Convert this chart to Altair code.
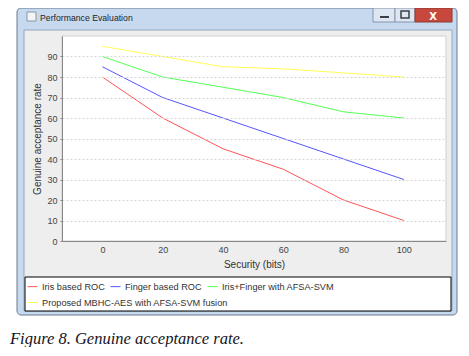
import altair as alt
import pandas as pd

# ---- data ----
security_bits = [0, 20, 40, 60, 80, 100]
series_names = [
    "Iris based ROC",
    "Finger based ROC",
    "Iris+Finger with AFSA-SVM",
    "Proposed MBHC-AES with AFSA-SVM fusion",
]
iris_roc = [80, 60, 45, 35, 20, 10]
finger_roc = [85, 70, 60, 50, 40, 30]
iris_finger_afsa = [90, 80, 75, 70, 63, 60]
proposed_mbhc = [95, 90, 85, 84, 82, 80]
series_colors = ["#FF5555", "#5555FF", "#55FF55", "#FFFF55"]
y_ticks = [0, 10, 20, 30, 40, 50, 60, 70, 80, 90]
x_ticks = [0, 20, 40, 60, 80, 100]

rows = []
for name, vals in zip(series_names, [iris_roc, finger_roc, iris_finger_afsa, proposed_mbhc]):
    for xv, yv in zip(security_bits, vals):
        rows.append({"Security": xv, "GAR": yv, "Series": name})
df = pd.DataFrame(rows)

W, H = 384, 205
one = pd.DataFrame({"a": [0]})
FONT = "Liberation Sans"


def box(x1, x2, y1, y2, **kw):
    return alt.Chart(one).mark_rect(**kw).encode(
        x=alt.value(x1), x2=alt.value(x2), y=alt.value(y1), y2=alt.value(y2)
    )


def label(txt, x, y, **kw):
    return alt.Chart(one).mark_text(**kw).encode(
        x=alt.value(x), y=alt.value(y), text=alt.value(txt)
    )


# window chrome (decoration)
frame = box(-45, 395, -28, 279, fill="#C6D9EF", stroke="#6A7A90", strokeWidth=1, cornerRadius=4)
inner = box(-38, 390, -6, 275, fill="#EEEEEE", stroke="#93A7C0", strokeWidth=1)
btn_min = box(311, 333, -28, -14, fill="#DDE6F1", stroke="#8496AE", strokeWidth=1)
btn_max = box(333, 353, -28, -14, fill="#DDE6F1", stroke="#8496AE", strokeWidth=1)
btn_close = box(353, 390, -28, -14, fill="#C9483D", stroke="#8A3A33", strokeWidth=1)
glyph_min = box(318, 327, -20, -18, fill="#3A3F48")
glyph_max = box(339, 347, -25, -18, fill="#DDE6F1", stroke="#3A3F48", strokeWidth=1.5)
glyph_close = label("X", 371, -16, align="center", baseline="alphabetic", font="DejaVu Sans",
                    fontSize=10, fontWeight="bold", color="white")
icon = box(-35, -26, -24, -15, fill="#F4F4F4", stroke="#8A96A6", strokeWidth=1)
win_title = label("Performance Evaluation", -22, -15, align="left", baseline="alphabetic",
                  font=FONT, fontSize=8.7, color="#1E1E1E")
plot_bg = box(0, W, 0, H, fill="white", stroke="#CFCFCF", strokeWidth=1)
legend_box = box(-37, 389, 241, 275, fill="white", stroke="black", strokeWidth=1)
caption = label("Figure 8. Genuine acceptance rate.", -52, 308, align="left", baseline="alphabetic",
                font="Liberation Serif", fontSize=16.5, fontStyle="italic", color="#141422")

x_enc = alt.X(
    "Security:Q",
    scale=alt.Scale(domain=[-13.4, 114], nice=False, zero=False),
    axis=alt.Axis(
        values=x_ticks, title="Security (bits)", grid=False, ticks=False,
        domainColor="#888888", labelFont=FONT, labelFontSize=9, labelColor="#444444",
        labelPadding=4, titleFont=FONT, titleFontSize=10, titleFontWeight="normal",
        titleColor="#333333", titlePadding=5, zindex=1,
    ),
)
y_enc = alt.Y(
    "GAR:Q",
    scale=alt.Scale(domain=[0, 100], nice=False),
    axis=alt.Axis(
        values=y_ticks, title="Genuine acceptance rate", grid=True,
        gridColor="#D6D6D6", gridDash=[2, 2], gridWidth=1,
        domainColor="#888888", tickColor="#888888", tickSize=2,
        labelFont=FONT, labelFontSize=9, labelColor="#444444", labelPadding=3,
        titleFont=FONT, titleFontSize=10, titleFontWeight="normal",
        titleColor="#333333", titlePadding=4, zindex=1,
    ),
)


def legend_at(ly):
    return alt.Legend(
        orient="none", legendX=-35, legendY=ly, title=None, direction="horizontal",
        symbolType="stroke", symbolSize=100, symbolStrokeWidth=1,
        labelFont=FONT, labelFontSize=9.2, labelColor="#333333", labelOffset=4,
        labelLimit=400, columnPadding=3, padding=0, zindex=1,
    )


first_three = series_names[:3]
lines_a = alt.Chart(df).transform_filter(
    alt.FieldOneOfPredicate(field="Series", oneOf=first_three)
).mark_line(strokeWidth=1, clip=True).encode(
    x=x_enc, y=y_enc,
    color=alt.Color("Series:N", scale=alt.Scale(domain=first_three, range=series_colors[:3]),
                    sort=first_three, legend=legend_at(245)),
)
lines_b = alt.Chart(df).transform_filter(
    alt.FieldEqualPredicate(field="Series", equal=series_names[3])
).mark_line(strokeWidth=1, clip=True).encode(
    x=x_enc, y=y_enc,
    color=alt.Color("Series:N", scale=alt.Scale(domain=[series_names[3]], range=[series_colors[3]]),
                    legend=legend_at(261)),
)

chart = alt.layer(
    frame, inner, btn_min, btn_max, btn_close, glyph_min, glyph_max, glyph_close,
    icon, win_title, plot_bg, legend_box, caption, lines_a, lines_b,
).resolve_scale(color="independent").properties(
    width=W, height=H,
    autosize=alt.AutoSizeParams(type="none"),
    padding={"left": 54, "top": 28, "right": 15, "bottom": 106},
    background="white",
).configure_view(strokeWidth=0)

chart.save("out.html", embed_options={"renderer": "svg", "actions": False})
